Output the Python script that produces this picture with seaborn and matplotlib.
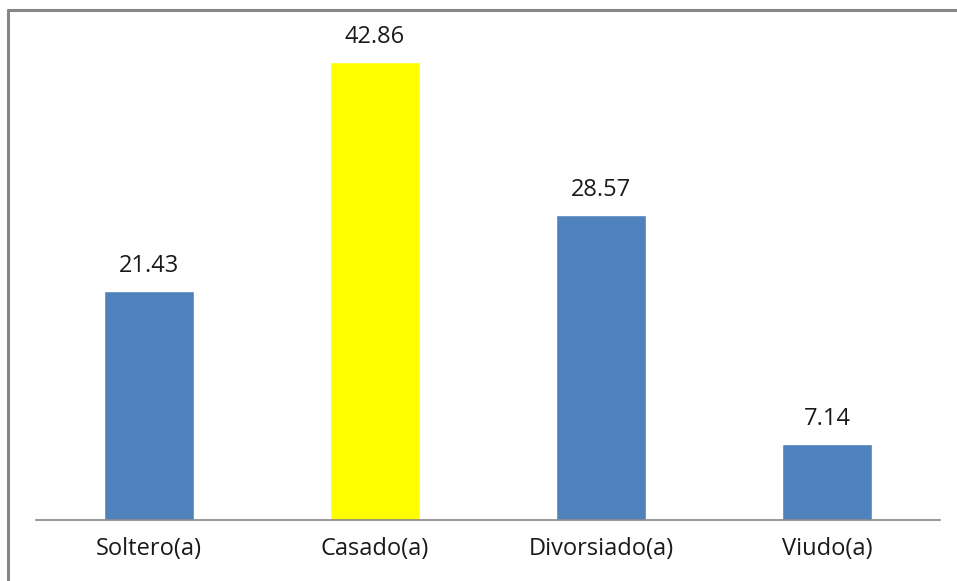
import matplotlib
matplotlib.use("Agg")
import matplotlib.pyplot as plt
from matplotlib.lines import Line2D
import seaborn as sns
import pandas as pd

categorias = ["Soltero(a)", "Casado(a)", "Divorsiado(a)", "Viudo(a)"]
porcentajes = [21.43, 42.86, 28.57, 7.14]
colores = ["#4F81BD", "#FFFF00", "#4F81BD", "#4F81BD"]

sns.set_theme(style="white")
plt.rcParams["font.family"] = ["Open Sans", "DejaVu Sans"]

df = pd.DataFrame({"estado": categorias, "valor": porcentajes})

W, H = 957, 581
fig = plt.figure(figsize=(W / 100, H / 100), dpi=100)
ax = fig.add_axes([36 / W, 1 - 520 / H, (940 - 36) / W, (520 - 20) / H])

sns.barplot(data=df, x="estado", y="valor", hue="estado",
            palette=dict(zip(categorias, colores)), legend=False,
            width=0.395, saturation=1, ax=ax)

ax.set_ylim(0, 46.78)
ax.set_xlim(-0.5, len(categorias) - 0.5)
ax.set_xlabel("")
ax.set_ylabel("")
ax.set_yticks([])
for s in ["top", "right", "left"]:
    ax.spines[s].set_visible(False)
ax.spines["bottom"].set_color("#868686")
ax.spines["bottom"].set_linewidth(1.2)
ax.tick_params(axis="x", length=0, pad=12.5, labelsize=17, colors="#1a1a1a")

for i, v in enumerate(porcentajes):
    ax.annotate(f"{v:.2f}", (i, v), xytext=(0, 13.5), textcoords="offset points",
                ha="center", va="baseline", fontsize=17, color="#1a1a1a")

# frame edges of the chart area
fig.add_artist(Line2D([8 / W, 8 / W], [0, 1 - 10 / H], transform=fig.transFigure,
                      color="#868686", linewidth=2.2))
fig.add_artist(Line2D([8 / W, 1], [1 - 10 / H, 1 - 10 / H], transform=fig.transFigure,
                      color="#868686", linewidth=2.2))

fig.savefig("out.png", dpi=100)
